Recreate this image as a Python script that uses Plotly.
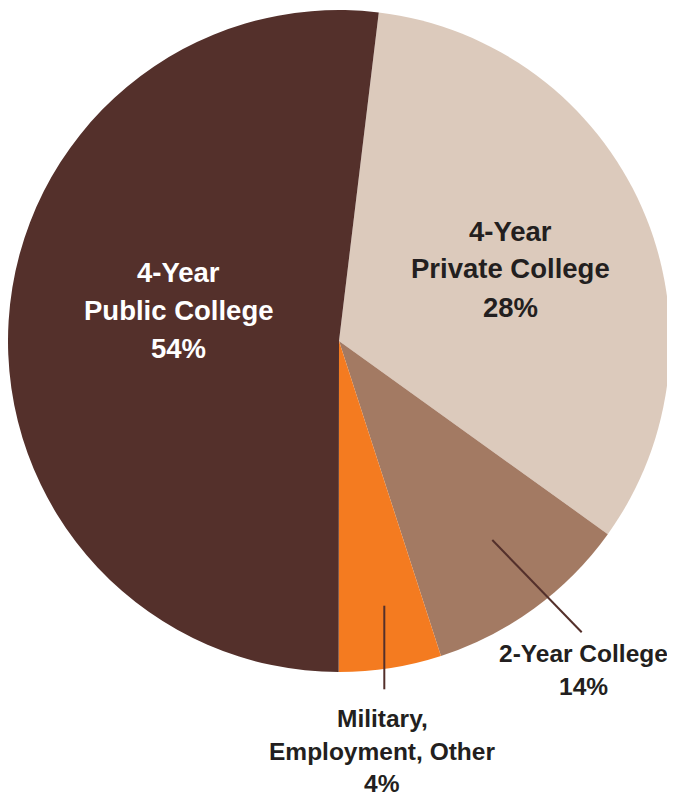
import plotly.graph_objects as go

# The page body has an 8px margin; draw in a canvas shifted by that amount
OFF = 8
W, H = 675 - OFF, 797 - OFF

# Slice sizes as drawn in the picture (degrees converted to shares)
labels = ["4-Year Private College", "2-Year College", "Military, Employment, Other", "4-Year Public College"]
drawn_values = [33.0, 10.1, 5.0, 51.9]
printed_pct = ["28%", "14%", "4%", "54%"]
colors = ["#dccabc", "#a37a63", "#f47b20", "#54302b"]


def px(x):
    return (x - OFF) / W


def py(y):
    return 1 - (y - OFF) / H


fig = go.Figure(go.Pie(
    labels=labels,
    values=drawn_values,
    sort=False,
    direction="clockwise",
    rotation=6.9,
    marker=dict(colors=colors, line=dict(width=0)),
    textinfo="none",
    hoverinfo="label",
    showlegend=False,
    domain=dict(x=[px(8), px(670)], y=[py(672), py(10)]),
))

FONT = "Liberation Sans, Arial, Helvetica, sans-serif"


def add_line(text, cx, baseline, size, color):
    fig.add_annotation(
        x=px(cx), y=py(baseline - 0.35 * size), xref="paper", yref="paper",
        text=text, showarrow=False, xanchor="center", yanchor="middle",
        font=dict(family=FONT, size=size, color=color, weight=700),
    )


# 4-Year Public (white)
for t, b in zip(["4-Year", "Public College", printed_pct[3]], [281.7, 320.0, 358.3]):
    add_line(t, 178, b, 27.5, "white")
# 4-Year Private
for t, b in zip(["4-Year", "Private College", printed_pct[0]], [240.7, 278.3, 316.7]):
    add_line(t, 510.5, b, 27.5, "#231f20")
# 2-Year College
for t, b in zip(["2-Year College", printed_pct[1]], [661.7, 695.0]):
    add_line(t, 583, b, 24.5, "#231f20")
# Military
for t, b in zip(["Military,", "Employment, Other", printed_pct[2]], [727.0, 760.5, 792.5]):
    add_line(t, 382, b, 24.5, "#231f20")

# leader lines
fig.add_shape(type="line", xref="paper", yref="paper",
              x0=px(492.3), y0=py(540), x1=px(581.7), y1=py(632.3),
              line=dict(color="#54302b", width=2))
fig.add_shape(type="line", xref="paper", yref="paper",
              x0=px(384.3), y0=py(605.7), x1=px(384.3), y1=py(689.3),
              line=dict(color="#54302b", width=2))

fig.update_layout(
    width=W, height=H,
    margin=dict(l=0, r=0, t=0, b=0),
    paper_bgcolor="white",
    plot_bgcolor="white",
)

fig.write_html("out.html")
